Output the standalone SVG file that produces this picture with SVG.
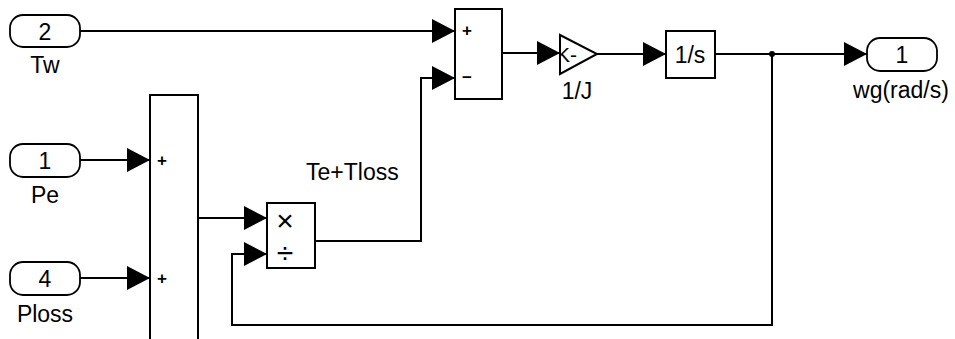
<svg xmlns="http://www.w3.org/2000/svg" width="955" height="339" viewBox="0 0 955 339">
<style>
.blk{fill:#fff;stroke:#000;stroke-width:2}
.port{fill:#fff;stroke:#000;stroke-width:1.8}
.ln{fill:none;stroke:#000;stroke-width:2}
text{font-family:"Liberation Sans",Arial,sans-serif;fill:#000}
.lbl{font-size:23px}
.num{font-size:23px;text-anchor:middle}
.sgn{font-size:17px;font-weight:bold;text-anchor:middle}
</style>
<defs>
<marker id="arr" markerUnits="userSpaceOnUse" markerWidth="23" markerHeight="24" refX="23" refY="12" orient="auto">
<path d="M0,0 L23,12 L0,24 z" fill="#000"/>
</marker>
<clipPath id="gclip"><polygon points="560,35 597,54 560,74"/></clipPath>
</defs>
<rect width="955" height="339" fill="#fff"/>
<g id="connectors">
<path class="ln" d="M80,31 H455" marker-end="url(#arr)"/>
<path class="ln" d="M502,53 H560" marker-end="url(#arr)"/>
<path class="ln" d="M597,54 H666" marker-end="url(#arr)"/>
<path class="ln" d="M715,54 H867" marker-end="url(#arr)"/>
<path class="ln" d="M772,54 V325 H232 V254 H267" marker-end="url(#arr)"/>
<path class="ln" d="M80,160 H150" marker-end="url(#arr)"/>
<path class="ln" d="M80,278 H150" marker-end="url(#arr)"/>
<path class="ln" d="M198,218 H267" marker-end="url(#arr)"/>
<path class="ln" d="M315,241 H421 V78 H455" marker-end="url(#arr)"/>
<circle cx="772" cy="54" r="3" fill="#000"/>
<text class="lbl" x="306" y="180">Te+Tloss</text>
</g>
<g id="in_Tw">
<rect class="port" x="10" y="15" width="70" height="32" rx="13"/>
<text class="num" x="45" y="40">2</text>
<text class="lbl" x="45" y="73" text-anchor="middle">Tw</text>
</g>
<g id="in_Pe">
<rect class="port" x="10" y="144" width="70" height="33" rx="13"/>
<text class="num" x="45" y="169">1</text>
<text class="lbl" x="45" y="203" text-anchor="middle">Pe</text>
</g>
<g id="in_Ploss">
<rect class="port" x="10" y="262" width="70" height="33" rx="13"/>
<text class="num" x="45" y="287">4</text>
<text class="lbl" x="45" y="322" text-anchor="middle">Ploss</text>
</g>
<g id="sum_P">
<rect class="blk" x="150" y="95" width="48" height="260"/>
<text class="sgn" x="162" y="166">+</text>
<text class="sgn" x="162" y="284">+</text>
</g>
<g id="product">
<rect class="blk" x="267" y="203" width="48" height="65"/>
<text x="285" y="231" font-size="30" text-anchor="middle">×</text>
<text x="285" y="263" font-size="30" text-anchor="middle">÷</text>
</g>
<g id="sum_T">
<rect class="blk" x="455" y="9" width="47" height="90"/>
<text class="sgn" x="467" y="36">+</text>
<text class="sgn" x="467" y="83">−</text>
</g>
<g id="gain">
<polygon class="blk" points="560,35 597,54 560,74"/>
<text x="556" y="62" font-size="21" clip-path="url(#gclip)">K-</text>
<text class="lbl" x="577" y="99" text-anchor="middle">1/J</text>
</g>
<g id="integrator">
<rect class="blk" x="666" y="31" width="49" height="47"/>
<text x="690" y="63" font-size="23" text-anchor="middle">1/s</text>
</g>
<g id="out_wg">
<rect class="port" x="867" y="38" width="70" height="33" rx="13"/>
<text class="num" x="902" y="63">1</text>
<text class="lbl" x="901" y="98" text-anchor="middle">wg(rad/s)</text>
</g>
</svg>
